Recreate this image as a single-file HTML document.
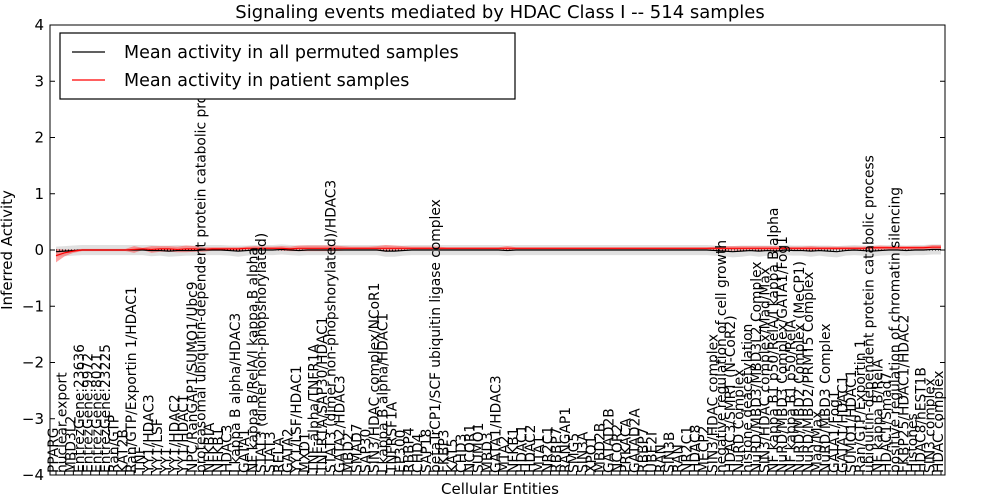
<!DOCTYPE html>
<html><head><meta charset="utf-8"><style>
body{margin:0;background:#fff;}
svg{display:block;font-family:"DejaVu Sans","Liberation Sans",sans-serif;}
</style></head><body>
<svg id="chart" width="1000" height="500" viewBox="0 0 1000 500">
<defs><clipPath id="clip"><rect x="50" y="25" width="895" height="450"/></clipPath></defs>
<text x="500" y="18" text-anchor="middle" font-size="18">Signaling events mediated by HDAC Class I -- 514 samples</text>
<g id="plot"></g>
<text x="500" y="494" text-anchor="middle" font-size="15">Cellular Entities</text>
<text transform="translate(12,250) rotate(-90)" text-anchor="middle" font-size="15">Inferred Activity</text>
<g>
<rect x="60" y="33" width="455" height="66" fill="#fff" stroke="#000" stroke-width="1.2"/>
<line x1="72" y1="52" x2="105" y2="52" stroke="#000" stroke-width="1.2"/>
<text x="124" y="58" font-size="17.5">Mean activity in all permuted samples</text>
<line x1="72" y1="80" x2="105" y2="80" stroke="#f00" stroke-width="1.2"/>
<text x="124" y="86" font-size="17.5">Mean activity in patient samples</text>
</g>
</svg>
<script>
const labels=["PPARG","nuclear export","MBD3L2","EntrezGene:23636","EntrezGene:9972","EntrezGene:8021","EntrezGene:23225","Ran/GTP","KAT2B","Ran/GTP/Exportin 1/HDAC1","TNF","YY1/HDAC3","YY1/LSF","YY1","YY1/HDAC2","YY1/HDAC1","NPC/RanGAP1/SUMO1/Ubc9","proteasomal ubiquitin-dependent protein catabolic process","NFKBIA","NFKB1","HDAC3","I kappa B alpha/HDAC3","GATA1","NF kappa B/RelA/I kappa B alpha","STAT3 (dimer non-phopshorylated)","STAT3","RELA","GATA2","YY1/LSF/HDAC1","MXD1","TNF-alpha/TNFR1A","TNFR1A/SAP30/HDAC1","STAT3 (dimer non-phopshorylated)/HDAC3","GATA2/HDAC3","MBD2","SMAD7","SAP30","SIN3/HDAC complex/NCoR1","I kappa B alpha/HDAC1","TNFRSF1A","EP300","RBBP4","CHD4","SAP18","betaTrCP1/SCF ubiquitin ligase complex","FKBP3","KAT5","CHD3","NCOR1","SUMO1","MBD3","GATA1/HDAC3","MTA2","NFKB1","HDAC1","HDAC2","MTA1","NR2C1","RBBP7","RANGAP1","SMG5","SIN3A","XPO1","MBD2B","GATAD2B","NCOR2","PRKACA","GATAD2A","RBBP7","UBE2I","RAN","SIN3B","RAN","NR2C1","HDAC8","MECP2","SIN3/HDAC complex","negative regulation of cell growth","HDAC3/SMRT (N-CoR2)","NuRD Complex","histone deacetylation","NuRD/MBD3/MBD3L2 Complex","SIN3/HDAC complex/Mad/Max","NF kappa B1 p50/RelA/I kappa B alpha","NuRD/MBD3 Complex/GATA1/Fog1","NF kappa B1 p50/RelA","NuRD/MBD2 Complex (MeCP1)","NuRD/MBD2/PRMT5 Complex","Mad/Max","NuRD/MBD3 Complex","GATA1/Fog1","GATA1/HDAC1","SUMO1/HDAC1","Ran/GTP/Exportin 1","ubiquitin-dependent protein catabolic process","NF kappa B/RelA","HDAC1/Smad7","positive regulation of chromatin silencing","FKBP25/HDAC1/HDAC2","Histones","HDAC8/hEST1B","SIN3 complex","HDAC complex"];
const permMean=[-0.03,-0.02,-0.01,0,0,0,0,0,0,0,0,-0.01,-0.01,-0.02,-0.01,-0.01,-0.01,0,0,0,-0.01,-0.02,-0.01,0,0,0,0.01,0,-0.01,0,0,0,0,0,0,0,0,0,-0.02,-0.02,-0.01,0,0,0,0,0,0,0,0,0,0,0,-0.01,0,0,0,0,0,0,0,0,0,0,0,0,0,0,0,0,0,0,0,0,0,0,0,-0.01,-0.02,-0.03,-0.02,-0.01,-0.02,-0.01,-0.02,0,-0.01,-0.01,-0.02,-0.01,-0.02,-0.03,-0.01,0,-0.01,-0.02,-0.01,0,0,-0.01,0,0,0.01,0.01,0.01,0.02,0.02,0.02,0.02];
const patMean=[-0.1,-0.05,-0.02,0,0,0,0,0,0,0.01,0.02,0.01,0.02,0.02,0.01,0.02,0.02,0.01,0.02,0.02,0.02,0.02,0.03,0.03,0.03,0.03,0.03,0.02,0.03,0.03,0.03,0.03,0.03,0.03,0.03,0.03,0.03,0.03,0.03,0.03,0.03,0.03,0.03,0.03,0.03,0.03,0.03,0.03,0.03,0.03,0.03,0.03,0.03,0.03,0.03,0.03,0.03,0.03,0.03,0.03,0.03,0.03,0.03,0.03,0.03,0.03,0.03,0.03,0.03,0.03,0.03,0.03,0.03,0.03,0.03,0.03,0.03,0.03,0.03,0.03,0.03,0.03,0.03,0.03,0.03,0.03,0.03,0.03,0.03,0.03,0.03,0.03,0.03,0.03,0.04,0.04,0.04,0.04,0.04,0.04,0.04,0.05,0.05,0.05,0.05,0.06];
const permSd=[0.09,0.09,0.09,0.09,0.09,0.09,0.09,0.09,0.09,0.09,0.09,0.1,0.09,0.1,0.1,0.09,0.09,0.09,0.09,0.09,0.09,0.1,0.09,0.09,0.09,0.09,0.09,0.09,0.09,0.09,0.09,0.09,0.09,0.09,0.09,0.09,0.09,0.09,0.1,0.1,0.09,0.09,0.09,0.09,0.09,0.09,0.09,0.09,0.09,0.09,0.09,0.09,0.09,0.09,0.09,0.09,0.09,0.09,0.09,0.09,0.09,0.09,0.09,0.09,0.09,0.09,0.09,0.09,0.09,0.09,0.09,0.09,0.09,0.09,0.09,0.09,0.09,0.09,0.1,0.1,0.09,0.1,0.09,0.1,0.09,0.09,0.09,0.1,0.09,0.1,0.1,0.09,0.09,0.09,0.1,0.09,0.09,0.09,0.09,0.09,0.09,0.09,0.09,0.09,0.09,0.09];
const patSd=[0.12,0.06,0.03,0.02,0.02,0.02,0.02,0.02,0.02,0.06,0.02,0.06,0.05,0.05,0.05,0.06,0.05,0.04,0.03,0.03,0.03,0.03,0.03,0.04,0.03,0.03,0.04,0.04,0.05,0.05,0.05,0.05,0.05,0.04,0.03,0.03,0.03,0.04,0.06,0.05,0.04,0.03,0.03,0.03,0.03,0.02,0.02,0.02,0.02,0.02,0.02,0.02,0.04,0.02,0.02,0.02,0.02,0.02,0.02,0.02,0.02,0.02,0.02,0.02,0.02,0.02,0.02,0.02,0.02,0.02,0.02,0.02,0.02,0.02,0.02,0.02,0.03,0.04,0.04,0.04,0.04,0.04,0.04,0.04,0.03,0.03,0.03,0.04,0.03,0.03,0.03,0.03,0.03,0.03,0.03,0.04,0.03,0.03,0.03,0.03,0.03,0.04,0.04,0.04,0.04,0.04];
const yTicks=[-4,-3,-2,-1,0,1,2,3,4];

const NS="http://www.w3.org/2000/svg";
const L=50,R=945,T=25,B=475;
const N=labels.length;
const x0=56,x1=941;
function xs(i){return x0+i*(x1-x0)/(N-1);}
function ys(v){return T+(4-v)*(B-T)/8;}
const plot=document.getElementById('plot');
const data=document.createElementNS(NS,'g');
data.setAttribute('clip-path','url(#clip)');
plot.appendChild(data);
function mk(tag,attrs,parent){const e=document.createElementNS(NS,tag);for(const k in attrs)e.setAttribute(k,attrs[k]);(parent||plot).appendChild(e);return e;}
function cut(a){return a.slice(0,N);}
function band(m,s){m=cut(m);let top=m.map((v,i)=>xs(i)+','+ys(v+s[i]));let bot=m.map((v,i)=>xs(i)+','+ys(v-s[i])).reverse();return top.concat(bot).join(' ');}
function line(m){return cut(m).map((v,i)=>xs(i)+','+ys(v)).join(' ');}

let e=mk('polygon',{points:band(permMean,permSd),fill:'#d8d8d8',opacity:'0.8'},data);


e=mk('polygon',{points:band(patMean,patSd),fill:'#f44',opacity:'0.5'},data);


e=mk('line',{x1:L,x2:R,y1:ys(0),y2:ys(0),stroke:'#000','stroke-dasharray':'1,2','stroke-width':1},data);


e=mk('polyline',{points:line(permMean),fill:'none',stroke:'#000','stroke-width':1.2},data);


e=mk('polyline',{points:line(patMean),fill:'none',stroke:'#f00','stroke-width':1.2},data);



e=mk('rect',{x:L,y:T,width:R-L,height:B-T,fill:'none',stroke:'#000','stroke-width':1});



yTicks.forEach(v=>{
  const y=ys(v);
  let t=mk('line',{x1:L,x2:L+5,y1:y,y2:y,stroke:'#000'});
  
  
  t=mk('line',{x1:R-5,x2:R,y1:y,y2:y,stroke:'#000'});
  
  
  const tx=mk('text',{x:L-6,y:y+5,'text-anchor':'end','font-size':15});
  tx.textContent=(v<0?'\u2212'+(-v):String(v));
  
  
});

labels.forEach((lab,i)=>{
  const x=xs(i);
  const t=mk('text',{transform:'translate('+(x+2)+',473) rotate(-90)','font-size':13.8});
  t.textContent=lab;
  
  
  const tk=mk('line',{x1:x,x2:x,y1:B,y2:B-4,stroke:'#000'});
  
  
});
</script>
</body></html>
